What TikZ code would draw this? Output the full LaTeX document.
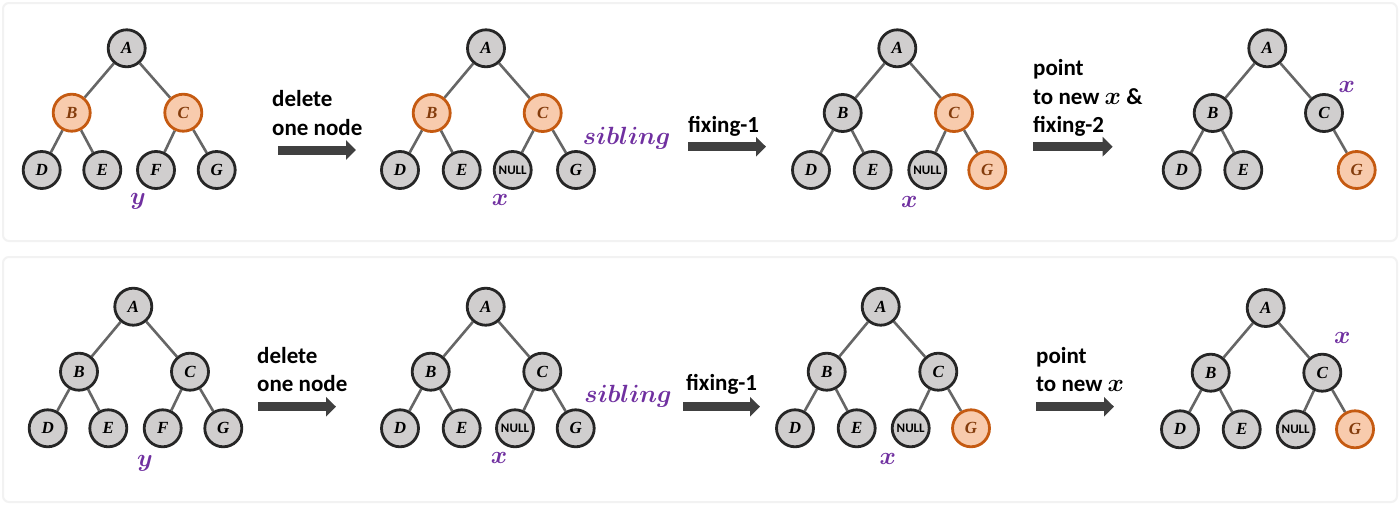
\documentclass[tikz,border=0pt]{standalone}
\usepackage{fontspec}
\newfontfamily\carl{Carlito}
\newfontfamily\lser{Liberation Serif}
\usetikzlibrary{arrows.meta,backgrounds}
\definecolor{nodefill}{HTML}{D0CECE}
\definecolor{nodeline}{HTML}{262626}
\definecolor{orfill}{HTML}{F8CBAD}
\definecolor{orline}{HTML}{C55A11}
\definecolor{ortext}{HTML}{843C0C}
\definecolor{edgecol}{HTML}{666666}
\definecolor{purp}{HTML}{7030A0}
\definecolor{arrcol}{HTML}{404040}
\definecolor{panelcol}{HTML}{F2F2F2}
\tikzset{
  gn/.style={circle, draw=nodeline, fill=nodefill, line width=2.8pt, minimum size=37pt, inner sep=0pt,
    font=\lser\bfseries\itshape\fontsize{17}{17}\selectfont, text=black},
  on/.style={gn, draw=orline, fill=orfill, text=ortext},
  nn/.style={gn, font=\carl\bfseries\fontsize{13}{13}\selectfont},
  edge/.style={draw=edgecol, line width=2.6pt},
  lab/.style={text=purp, font=\boldmath\fontsize{28}{28}\selectfont, inner sep=0pt},
  txt/.style={anchor=base west, inner sep=0pt, font=\boldmath\carl\bfseries\fontsize{23}{23}\selectfont},
  blk/.style={draw=arrcol, line width=9pt, -{Triangle[length=10pt,width=19pt]}},
  panel/.style={draw=panelcol, line width=2pt, rounded corners=6pt, fill=white}
}
\begin{document}
\begin{tikzpicture}[x=1pt,y=-1pt]
\useasboundingbox (0,0) rectangle (1400,506);
% ---------------- top row ----------------
% tree a1
\node[gn] (a1A) at (126.7,48.3) {A};
\node[on] (a1B) at (71.7,112.7) {B};
\node[on] (a1C) at (183.3,112.7) {C};
\node[gn] (a1D) at (41.7,170) {D};
\node[gn] (a1E) at (102.3,170) {E};
\node[gn] (a1F) at (156,170) {F};
\node[gn] (a1G) at (216.7,170) {G};
\node[lab] (a1y) at (138,201.7) {$y$};
% arrow 1
\node[txt] (a1t1) at (272,106.7) {delete};
\node[txt] (a1t2) at (272,135) {one node};
\coordinate (a1s) at (278,150);
\coordinate (a1e) at (356,150);
% tree a2
\node[gn] (a2A) at (486,48.3) {A};
\node[on] (a2B) at (431.7,113) {B};
\node[on] (a2C) at (542.7,113) {C};
\node[gn] (a2D) at (400,170) {D};
\node[gn] (a2E) at (461.7,170) {E};
\node[nn] (a2F) at (512.7,170) {NULL};
\node[gn] (a2G) at (576,170) {G};
\node[lab] (a2x) at (500,200) {$x$};
\node[lab] (a2s) at (626.7,138.3) {$sibling$};
% arrow 2
\node[txt] (a2t1) at (688,132.7) {fixing-1};
\coordinate (a2as) at (688,146.7);
\coordinate (a2ae) at (766,146.7);
% tree a3
\node[gn] (a3A) at (897.3,48.3) {A};
\node[gn] (a3B) at (842.7,113) {B};
\node[on] (a3C) at (954,113) {C};
\node[gn] (a3D) at (811,170) {D};
\node[gn] (a3E) at (872.7,170) {E};
\node[nn] (a3F) at (927.3,170) {NULL};
\node[on] (a3G) at (987.3,170) {G};
\node[lab] (a3x) at (909.3,201.7) {$x$};
% arrow 3
\node[txt] (a3t1) at (1033,75) {point};
\node[txt] (a3t2) at (1033,104) {to new $x$ \&};
\node[txt] (a3t3) at (1033,132.7) {fixing-2};
\coordinate (a3as) at (1033,146.7);
\coordinate (a3ae) at (1112.7,146.7);
% tree a4
\node[gn] (a4A) at (1267.3,48.3) {A};
\node[gn] (a4B) at (1212.7,113) {B};
\node[gn] (a4C) at (1324,113) {C};
\node[gn] (a4D) at (1181.7,170) {D};
\node[gn] (a4E) at (1243.3,170) {E};
\node[on] (a4G) at (1356.7,170) {G};
\node[lab] (a4x) at (1346.7,87.3) {$x$};
% ---------------- bottom row ----------------
\node[gn] (b1A) at (133.3,306.7) {A};
\node[gn] (b1B) at (79,371.7) {B};
\node[gn] (b1C) at (190,371.7) {C};
\node[gn] (b1D) at (47.7,428.3) {D};
\node[gn] (b1E) at (108.3,428.3) {E};
\node[gn] (b1F) at (162.7,428.3) {F};
\node[gn] (b1G) at (223.3,428.3) {G};
\node[lab] (b1y) at (145,463.3) {$y$};
\node[txt] (b1t1) at (257,363.3) {delete};
\node[txt] (b1t2) at (257,391.7) {one node};
\coordinate (b1as) at (258,406.7);
\coordinate (b1ae) at (336,406.7);
\node[gn] (b2A) at (485.7,306.7) {A};
\node[gn] (b2B) at (430.7,371.7) {B};
\node[gn] (b2C) at (542.3,371.7) {C};
\node[gn] (b2D) at (400,428.3) {D};
\node[gn] (b2E) at (461.7,428.3) {E};
\node[nn] (b2F) at (515,428.3) {NULL};
\node[gn] (b2G) at (575.7,428.3) {G};
\node[lab] (b2x) at (499,458) {$x$};
\node[lab] (b2s) at (628,396.7) {$sibling$};
\node[txt] (b2t1) at (686,390) {fixing-1};
\coordinate (b2as) at (683,406.7);
\coordinate (b2ae) at (760,406.7);
\node[gn] (b3A) at (880.7,306.7) {A};
\node[gn] (b3B) at (826.7,371.7) {B};
\node[gn] (b3C) at (938.3,371.7) {C};
\node[gn] (b3D) at (795,428.3) {D};
\node[gn] (b3E) at (856.7,428.3) {E};
\node[nn] (b3F) at (910.7,428.3) {NULL};
\node[on] (b3G) at (971,428.3) {G};
\node[lab] (b3x) at (887.7,459) {$x$};
\node[txt] (b3t1) at (1036,363.3) {point};
\node[txt] (b3t2) at (1036,391.7) {to new $x$};
\coordinate (b3as) at (1036,406.7);
\coordinate (b3ae) at (1114,406.7);
\node[gn] (b4A) at (1265.7,308) {A};
\node[gn] (b4B) at (1210.7,372.7) {B};
\node[gn] (b4C) at (1322.3,372.7) {C};
\node[gn] (b4D) at (1180,429.3) {D};
\node[gn] (b4E) at (1241.7,429.3) {E};
\node[nn] (b4F) at (1295.7,429.3) {NULL};
\node[on] (b4G) at (1355,429.3) {G};
\node[lab] (b4x) at (1342.3,338.3) {$x$};
% block arrows
\draw[blk] (a1s) -- (a1e);
\draw[blk] (a2as) -- (a2ae);
\draw[blk] (a3as) -- (a3ae);
\draw[blk] (b1as) -- (b1ae);
\draw[blk] (b2as) -- (b2ae);
\draw[blk] (b3as) -- (b3ae);
% background: panels and edges
\begin{scope}[on background layer]
  \fill[white] (0,0) rectangle (1400,506);
  \draw[panel] (3,3) rectangle (1397,241);
  \draw[panel] (3,257) rectangle (1397,502);
  \foreach \t in {a1,a2,a3,b1,b2,b3,b4} {
    \draw[edge] (\t A) -- (\t B);
    \draw[edge] (\t A) -- (\t C);
    \draw[edge] (\t B) -- (\t D);
    \draw[edge] (\t B) -- (\t E);
    \draw[edge] (\t C) -- (\t F);
    \draw[edge] (\t C) -- (\t G);
  }
  \draw[edge] (a4A) -- (a4B);
  \draw[edge] (a4A) -- (a4C);
  \draw[edge] (a4B) -- (a4D);
  \draw[edge] (a4B) -- (a4E);
  \draw[edge] (a4C) -- (a4G);
\end{scope}
\end{tikzpicture}
\end{document}
